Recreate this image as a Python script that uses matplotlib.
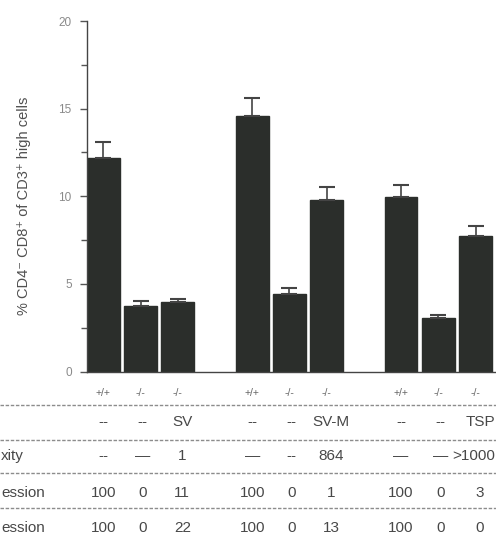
import matplotlib
matplotlib.use("Agg")
import matplotlib.pyplot as plt
import matplotlib.transforms as mtransforms
import numpy as np

plt.rcParams['font.family'] = ['Liberation Sans', 'DejaVu Sans']

# bar values (%) and upper error bars, three groups of three
values = [12.2, 3.75, 3.95, 14.6, 4.45, 9.8, 9.95, 3.05, 7.75]
errors = [0.9, 0.3, 0.2, 1.0, 0.3, 0.7, 0.7, 0.15, 0.55]
genotypes = ['+/+', '-/-', '-/-', '+/+', '-/-', '-/-', '+/+', '-/-', '-/-']
row_peptide = ['--', '--', 'SV', '--', '--', 'SV-M', '--', '--', 'TSP']
row_avidity = ['--', '\u2014', '1', '\u2014', '--', '864', '\u2014', '\u2014', '>1000']
row_expr1 = ['100', '0', '11', '100', '0', '1', '100', '0', '3']
row_expr2 = ['100', '0', '22', '100', '0', '13', '100', '0', '0']
row_names = ['', 'xity', 'ession', 'ession']

W, H = 496, 542
fig = plt.figure(figsize=(W / 100, H / 100), dpi=100)

# positions: groups separated by one empty slot
xpos = np.array([0, 1, 2, 4, 5, 6, 8, 9, 10])

ax = fig.add_axes([87 / W, 1 - 371.5 / H, 1 - 87 / W, (371.5 - 21) / H])
bar_col = '#2b2e2b'
ax.bar(xpos, values, width=0.88, color=bar_col, edgecolor=bar_col)
ax.errorbar(xpos, values, yerr=[np.zeros(len(errors)), errors], fmt='none',
            ecolor='#444444', elinewidth=1.2, capsize=5.5, capthick=1.5)

ax.set_xlim(-0.44, 10.55)
ax.set_ylim(0, 20)
ax.set_yticks([0, 5, 10, 15, 20])
ax.set_yticks([2.5, 7.5, 12.5, 17.5], minor=True)
ax.set_xticks([])
for s in ['top', 'right']:
    ax.spines[s].set_visible(False)
for s in ['left', 'bottom']:
    ax.spines[s].set_color('#444444')
    ax.spines[s].set_linewidth(1.0)
ax.tick_params(axis='y', which='major', direction='out', length=5, width=1,
               color='#555555', labelsize=8.5, labelcolor='#8a8a8a', pad=6)
ax.tick_params(axis='y', which='minor', direction='out', length=4, width=1,
               color='#555555')

fig.text(24 / W, 1 - 206 / H,
         '% CD4\u207b CD8\u207a of CD3\u207a high cells',
         rotation=90, ha='center', va='center', fontsize=10.5, color='#505050')

# table below the bars
tr = mtransforms.blended_transform_factory(ax.transData, fig.transFigure)
txt_col = '#484848'
off = [0, 0.05, 0.12] * 3

for x, g in zip(xpos, genotypes):
    fig.text(x, 1 - 393 / H, g, transform=tr, ha='center', va='center',
             fontsize=7.5, color='#666666')

rows = [row_peptide, row_avidity, row_expr1, row_expr2]
row_y = [422, 456, 493, 528]
for row, y, name in zip(rows, row_y, [''] + row_names[1:]):
    for x, o, t in zip(xpos, off, row):
        if t == '>1000':
            # last column runs to the right edge of the figure
            fig.text(495 / W, 1 - y / H, t, ha='right', va='center',
                     fontsize=11, color=txt_col)
            continue
        fig.text(x + o, 1 - y / H, t, transform=tr, ha='center', va='center',
                 fontsize=11, color=txt_col)
    if name:
        fig.text(1 / W, 1 - y / H, name, ha='left', va='center',
                 fontsize=11, color=txt_col)

for y in [405, 440, 473, 508]:
    fig.add_artist(plt.Line2D([0, 1], [1 - y / H, 1 - y / H],
                              transform=fig.transFigure, color='#8c8c8c',
                              lw=1.0, linestyle=(0, (2.5, 1.2))))

fig.savefig('out.png', dpi=100)
